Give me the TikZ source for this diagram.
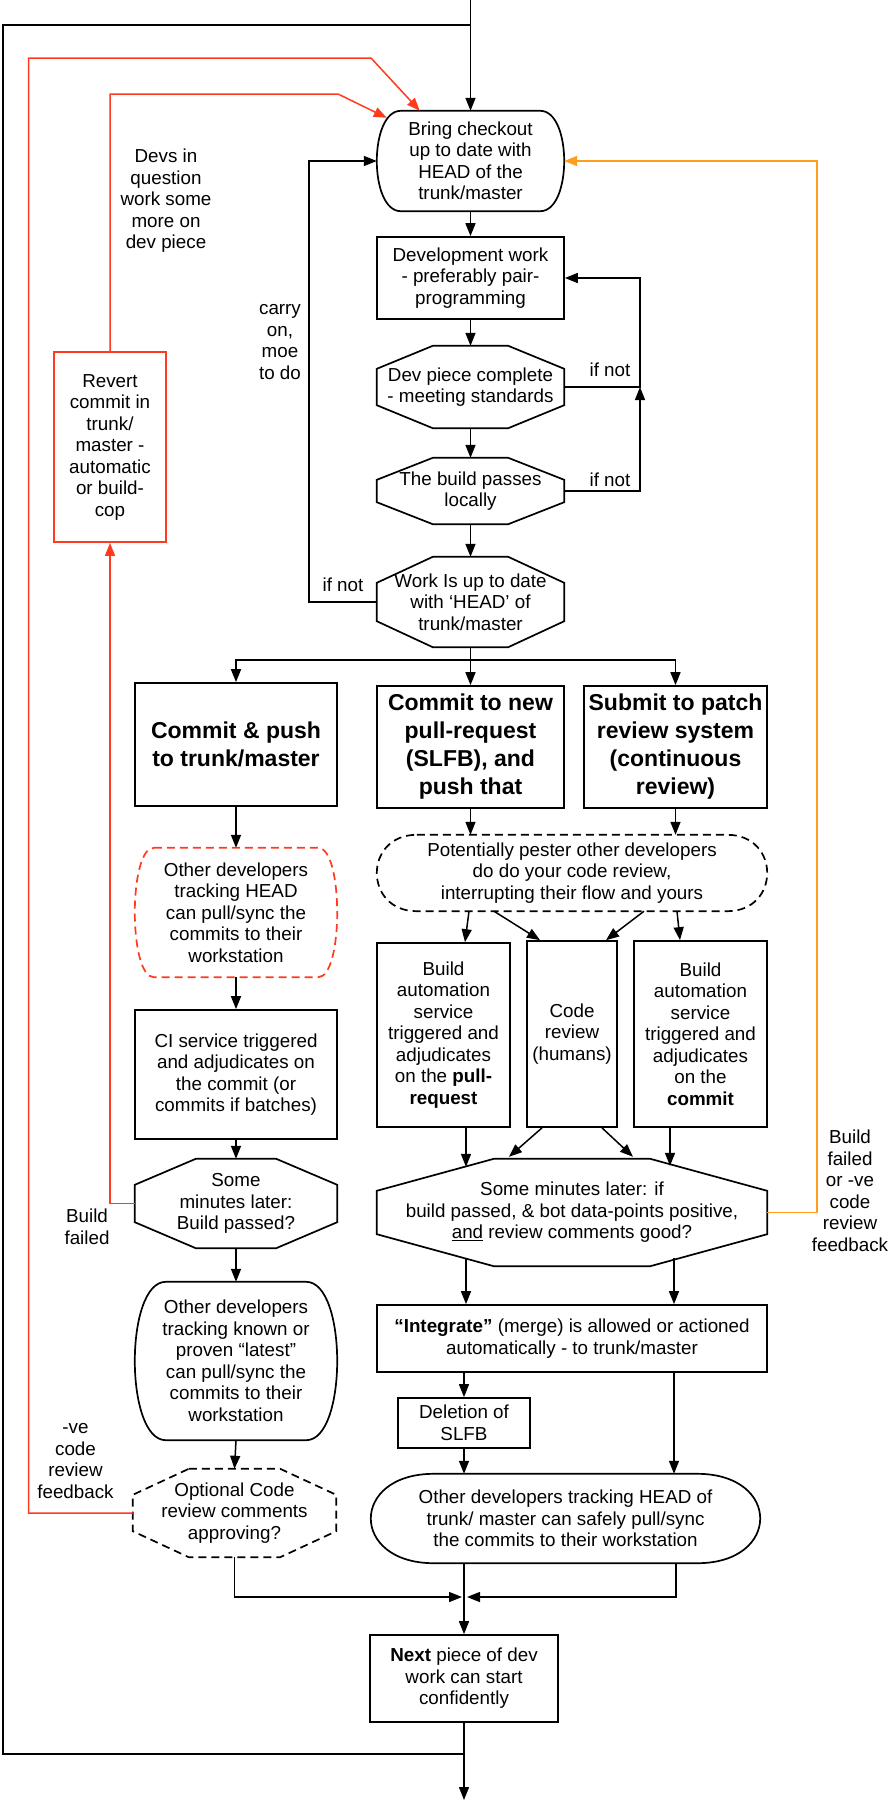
\documentclass[tikz,border=0pt]{standalone}
\usepackage{fontspec}
\setmainfont{Liberation Sans}
\usetikzlibrary{calc,arrows.meta}
\definecolor{cred}{RGB}{255,59,31}
\definecolor{corange}{RGB}{255,157,28}
\newcommand\fs{\fontsize{18.8}{21.5}\selectfont}
\newcommand\fbig{\fontsize{23}{28}\selectfont\bfseries}
\newcommand\octo[4][]{\draw[nb,#1] ($(#2.north west)+(#3,0)$) -- ($(#2.north east)+(-#3,0)$) -- ($(#2.north east)+(0,#4)$) -- ($(#2.south east)+(0,-#4)$) -- ($(#2.south east)+(-#3,0)$) -- ($(#2.south west)+(#3,0)$) -- ($(#2.south west)+(0,-#4)$) -- ($(#2.north west)+(0,#4)$) -- cycle;}
\newcommand\bulg[3][]{\draw[nb,#1] ($(#2.north west)+(#3,0)$) -- ($(#2.north east)+(-#3,0)$) .. controls ($(#2.north east)+({#3/3},0)$) and ($(#2.south east)+({#3/3},0)$) .. ($(#2.south east)+(-#3,0)$) -- ($(#2.south west)+(#3,0)$) .. controls ($(#2.south west)+({-#3/3},0)$) and ($(#2.north west)+({-#3/3},0)$) .. ($(#2.north west)+(#3,0)$) -- cycle;}
\begin{document}
\begin{tikzpicture}[x=1pt,y=-1pt,
  pl/.style={rectangle,inner sep=0pt,align=center,font=\fs},
  bx/.style={pl,draw,line width=1.7pt},
  nb/.style={line width=1.7pt},
  ln/.style={line width=1.5pt},
  arr/.style={ln,-{Triangle[length=13pt,width=10pt]}},
  dsh/.style={dash pattern=on 8pt off 5pt},
  tx/.style={inner sep=0pt,align=center,font=\fs}]
\useasboundingbox (0,0) rectangle (891,1802);

% ---- nodes ----
\node[pl,minimum width=187pt,minimum height=100pt] (chk) at (470.5,161) {Bring checkout\\up to date with\\HEAD of the\\trunk/master};
\bulg{chk}{24}
\node[bx,minimum width=187pt,minimum height=82pt] (dev) at (470.5,278) {Development work\\- preferably pair-\\programming};
\node[pl,minimum width=187pt,minimum height=82pt] (oct1) at (470.5,387) {Dev piece complete\\- meeting standards};
\octo{oct1}{56}{23}
\node[pl,minimum width=187pt,minimum height=66pt] (oct2) at (470.5,491) {The build passes\\locally};
\octo{oct2}{56}{22}
\node[pl,minimum width=187pt,minimum height=90pt] (oct3) at (470.5,602) {Work Is up to date\\with ‘HEAD’ of\\trunk/master};
\octo{oct3}{56}{26}

\node[bx,font=\fbig,minimum width=202pt,minimum height=123pt] (cp) at (236,744.5) {Commit \& push\\to trunk/master};
\node[bx,font=\fbig,minimum width=187pt,minimum height=122pt] (cn) at (470.5,747) {Commit to new\\pull-request\\(SLFB), and\\push that};
\node[bx,font=\fbig,minimum width=183pt,minimum height=122pt] (sp) at (675.5,747) {Submit to patch\\review system\\(continuous\\review)};

\node[pl,minimum width=202pt,minimum height=129pt] (od1) at (236,912.5) {Other developers\\tracking HEAD\\can pull/sync the\\commits to their\\workstation};
\bulg[cred,dsh]{od1}{19}
\node[pl,minimum width=390pt,minimum height=76pt] (pp) at (572,873) {Potentially pester other developers\\do do your code review,\\interrupting their flow and yours};
\bulg[dsh]{pp}{40}

\node[bx,minimum width=133pt,minimum height=184pt] (ba1) at (443.5,1035) {Build\\automation\\service\\triggered and\\adjudicates\\on the \textbf{pull-}\\\textbf{request}};
\node[bx,minimum width=90pt,minimum height=186pt] (cr) at (572,1034) {Code\\review\\(humans)};
\node[bx,minimum width=133pt,minimum height=186pt] (ba2) at (700.5,1034) {Build\\automation\\service\\triggered and\\adjudicates\\on the\\\textbf{commit}};

\node[bx,minimum width=202pt,minimum height=129pt] (ci) at (236,1074.5) {CI service triggered\\and adjudicates on\\the commit (or\\commits if batches)};
\node[pl,minimum width=202pt,minimum height=89pt] (smb) at (236,1203.5) {Some\\minutes later:\\Build passed?};
\octo{smb}{61}{26}
\node[pl,minimum width=390pt,minimum height=107pt] (big) at (572,1212.5) {Some minutes later: if\\build passed, \& bot data-points positive,\\\underline{and} review comments good?};
\octo{big}{117}{32}

\node[pl,minimum width=202pt,minimum height=158pt] (od2) at (236,1361) {Other developers\\tracking known or\\proven “latest”\\can pull/sync the\\commits to their\\workstation};
\bulg{od2}{31}
\node[bx,minimum width=390pt,minimum height=67pt] (integ) at (572,1338.5) {\textbf{“Integrate”} (merge) is allowed or actioned\\automatically - to trunk/master};
\node[bx,minimum width=132pt,minimum height=50pt] (del) at (464,1423) {Deletion of\\SLFB};
\node[pl,minimum width=389pt,minimum height=89pt] (od3) at (565.5,1518.5) {Other developers tracking HEAD of\\trunk/ master can safely pull/sync\\the commits to their workstation};
\bulg{od3}{63}
\node[pl,minimum width=203pt,minimum height=88pt] (opt) at (234.5,1513) {Optional Code\\review comments\\approving?};
\octo[dsh]{opt}{56}{26}
\node[bx,minimum width=188pt,minimum height=87pt] (nxt) at (464,1678.5) {\textbf{Next} piece of dev\\work can start\\confidently};

\node[bx,draw=cred,minimum width=112pt,minimum height=190pt] (rev) at (110,447) {Revert\\commit in\\trunk/\\master -\\automatic\\or build-\\cop};

% ---- free labels ----
\node[tx] (l1) at (166,201) {Devs in\\question\\work some\\more on\\dev piece};
\node[tx] (l2) at (280,342) {carry\\on,\\moe\\to do};
\node[tx] (l3) at (610,370) {if not};
\node[tx] (l4) at (610,480) {if not};
\node[tx] (l5) at (343,585) {if not};
\node[tx] (l6) at (87,1227) {Build\\failed};
\node[tx] (l7) at (850,1191) {Build\\failed\\or -ve\\code\\review\\feedback};
\node[tx] (l8) at (75.5,1461) {-ve\\code\\review\\feedback};

% ---- coordinates ----
\coordinate (tin) at (470.5,0);
\coordinate (jt) at (470.5,25);
\coordinate (lc1) at (3,25);
\coordinate (lc2) at (3,1754);
\coordinate (jb) at (464,1754);
\coordinate (bout) at (464,1800);
\coordinate (j1) at (640,387);
\coordinate (sp0) at (470.5,660);
\coordinate (mg) at (464,1597);
\coordinate (r1a) at (28.5,58);
\coordinate (r1b) at (371,58);
\coordinate (r2) at (338,94);

% ---- black connectors ----
\draw[arr] (tin) -- (chk.north);
\draw[ln] (jt) -- (lc1) -- (lc2) -- (jb);
\draw[arr] (nxt.south) -- (bout);
\draw[arr] (chk.south) -- (dev.north);
\draw[arr] (dev.south) -- (oct1.north);
\draw[arr] (oct1.south) -- (oct2.north);
\draw[arr] (oct2.south) -- (oct3.north);
\draw[arr] (oct1.east) -- (j1) |- (dev.east);
\draw[arr] (oct2.east) -| (j1);
\draw[arr] (oct3.west) -- ++(-68,0) |- (chk.west);
\draw[arr] (oct3.south) -- (cn.north);
\draw[arr] (sp0) -| (cp.north);
\draw[arr] (sp0) -| (sp.north);
\draw[arr] (cp.south) -- (od1.north);
\draw[arr] (od1.south) -- (ci.north);
\draw[arr] (ci.south) -- (smb.north);
\draw[arr] (smb.south) -- (od2.north);
\draw[arr] (od2.south) -- (opt.north);
\draw[arr] (cn.south) -- (cn.south |- pp.north);
\draw[arr] (sp.south) -- (sp.south |- pp.north);
\draw[arr] ($(pp.south)+(-103,0)$) -- ($(ba1.north)+(21.5,0)$);
\draw[arr] ($(pp.south)+(-78,0)$) -- ($(cr.north)+(-32,0)$);
\draw[arr] ($(pp.south)+(72,0)$) -- ($(cr.north)+(34,0)$);
\draw[arr] ($(pp.south)+(105,0)$) -- ($(ba2.north)+(-20.5,0)$);
\draw[arr] ($(ba1.south)+(22.5,0)$) -- ++(0,39);
\draw[arr] ($(cr.south)+(-30,0)$) -- ($(big.north)+(-63,-2)$);
\draw[arr] ($(cr.south)+(30,0)$) -- ($(big.north)+(61,-2)$);
\draw[arr] ($(ba2.south)+(-30.5,0)$) -- ++(0,38);
\draw[arr] ($(big.south)+(-106,-8)$) -- ($(integ.north)+(-106,0)$);
\draw[arr] ($(big.south)+(102,-8)$) -- ($(integ.north)+(102,0)$);
\draw[arr] (del.north |- integ.south) -- (del.north);
\draw[arr] (del.south) -- (del.south |- od3.north);
\draw[arr] ($(integ.south)+(102,0)$) -- ($(od3.north)+(108.5,0)$);
\draw[arr] (od3.south -| nxt.north) -- (nxt.north);
\draw[arr] (opt.south) |- ($(mg)+(-2,0)$);
\draw[arr] ($(od3.south)+(110.5,0)$) |- ($(mg)+(3,0)$);

% ---- red connectors ----
\draw[arr,cred] (rev.north) |- (r2) -- ($(chk.north west)+(10,7)$);
\draw[arr,cred] (opt.west) -| (r1a) -- (r1b) -- ($(chk.north west)+(43,0)$);
\draw[arr,cred] (smb.west) -| (rev.south);

% ---- orange connector ----
\draw[arr,corange,line width=1.8pt] (big.east) -- ++(50,0) |- (chk.east);
\end{tikzpicture}
\end{document}
